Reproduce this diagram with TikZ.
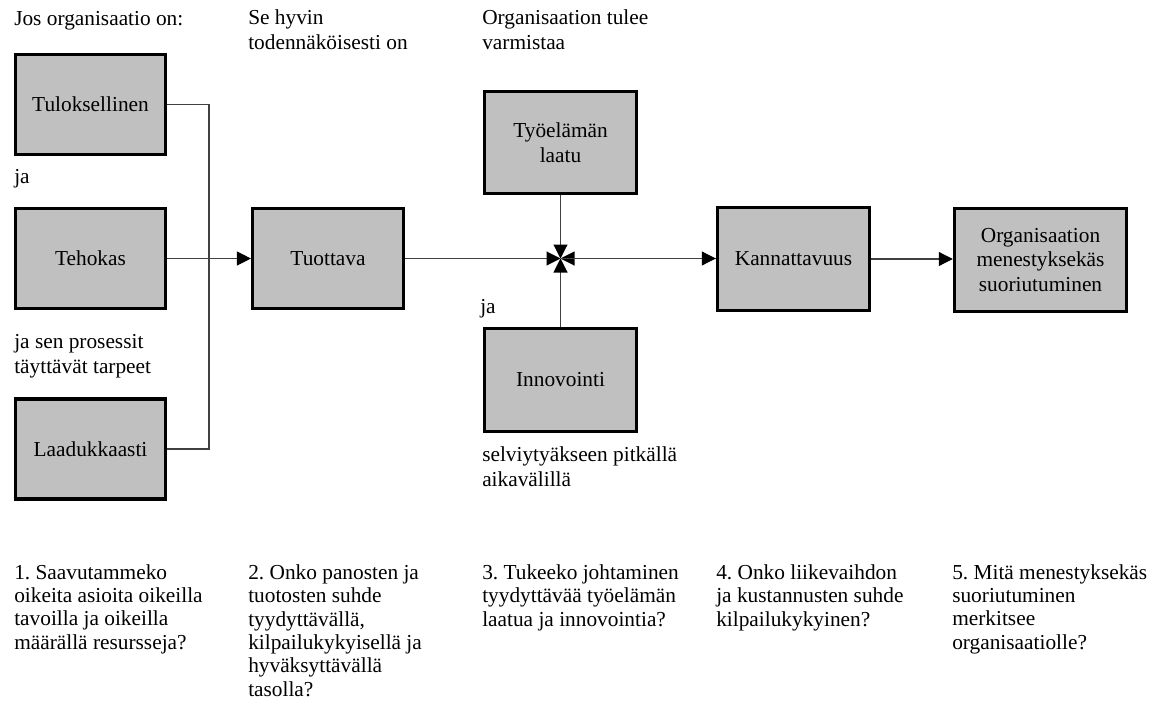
\documentclass[tikz,border=0pt]{standalone}
\usepackage{fontspec}
\setmainfont{Liberation Serif}
\usetikzlibrary{arrows.meta}
\definecolor{boxgray}{HTML}{C0C0C0}
\definecolor{linegray}{HTML}{404040}
\frenchspacing
\begin{document}
\begin{tikzpicture}[x=0.75pt,y=-0.75pt,
  every node/.style={font=\fontsize{16pt}{18.5pt}\selectfont},
  box/.style={draw=black, line width=2.6pt, fill=boxgray, align=center, inner sep=0pt},
  conn/.style={draw=linegray, line width=0.8pt},
  arr/.style={conn, -{Triangle[length=10.5pt,width=10.5pt,color=black]}},
  lbl/.style={anchor=base west, inner sep=0pt, align=left},
  qlbl/.style={lbl, font=\fontsize{16pt}{17.5pt}\selectfont}]
\useasboundingbox (0,0) rectangle (1160,711);

% boxes
\node[box, minimum width=112.5pt, minimum height=75pt] (tul) at (90.5,104.5) {Tuloksellinen};
\node[box, minimum width=112.5pt, minimum height=75pt] (teh) at (90.5,258.5) {Tehokas};
\node[box, minimum width=112.5pt, minimum height=75pt] (lad) at (90.5,449) {Laadukkaasti};
\node[box, minimum width=113pt, minimum height=75pt] (tuo) at (328,258.5) {Tuottava};
\node[box, minimum width=114pt, minimum height=76.5pt] (tyo) at (560.5,142.5) {Työelämän\\laatu};
\node[box, minimum width=114pt, minimum height=77pt] (inn) at (560.5,380) {Innovointi};
\node[box, minimum width=114pt, minimum height=77pt] (kan) at (793.5,259) {Kannattavuus};
\node[box, minimum width=129pt, minimum height=77pt] (org) at (1040.5,260) {Organisaation\\menestyksekäs\\suoriutuminen};

% junction points
\coordinate (bend) at (209,258.5);
\coordinate (junc) at (560.5,258.5);

% connectors
\draw[conn] (tul.east) -| (bend);
\draw[conn] (lad.east) -| (bend);
\draw[arr] (teh.east) -- (tuo.west);
\draw[arr] (tuo.east) -- (junc);
\draw[arr] (tyo.south) -- (junc);
\draw[arr] (inn.north) -- (junc);
\draw[arr] (kan.west |- junc) -- (junc);
\draw[arr] (junc) -- (kan.west |- junc);
\draw[arr] (kan.east) -- (kan.east -| org.west);

% labels (anchored at the baseline of their last line)
\node[lbl] (t1) at (14,25) {Jos organisaatio on:};
\node[lbl] (t2) at (248,49) {Se hyvin\\todennäköisesti on};
\node[lbl] (t3) at (482,49) {Organisaation tulee\\varmistaa};
\node[lbl] (ja1) at (14,183) {ja};
\node[lbl] (ja2) at (14,373) {ja sen prosessit\\täyttävät tarpeet};
\node[lbl] (ja3) at (480,313) {ja};
\node[lbl] (selv) at (482,486) {selviytyäkseen pitkällä\\aikavälillä};

\node[qlbl] (q1) at (14,649) {1. Saavutammeko\\oikeita asioita oikeilla\\tavoilla ja oikeilla\\määrällä resursseja?};
\node[qlbl] (q2) at (248,696) {2. Onko panosten ja\\tuotosten suhde\\tyydyttävällä,\\kilpailukykyisellä ja\\hyväksyttävällä\\tasolla?};
\node[qlbl] (q3) at (482,626) {3. Tukeeko johtaminen\\tyydyttävää työelämän\\laatua ja innovointia?};
\node[qlbl] (q4) at (716,626) {4. Onko liikevaihdon\\ja kustannusten suhde\\kilpailukykyinen?};
\node[qlbl] (q5) at (952,649) {5. Mitä menestyksekäs\\suoriutuminen\\merkitsee\\organisaatiolle?};
\end{tikzpicture}
\end{document}
